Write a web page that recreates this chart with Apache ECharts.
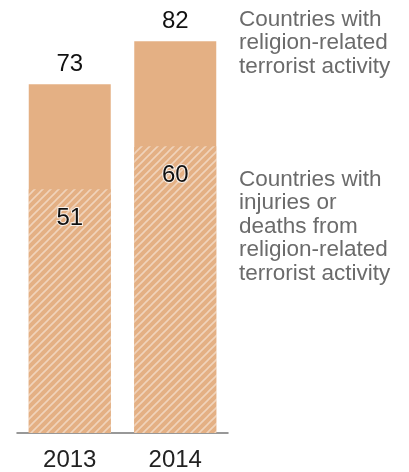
<!DOCTYPE html>
<html>
<head>
<meta charset="utf-8">
<script src="https://cdn.jsdelivr.net/npm/echarts@6/dist/echarts.min.js"></script>
<style>
  html, body { margin: 0; padding: 0; background: #fff; }
  #chart { width: 409px; height: 472px; }
</style>
</head>
<body>
<div id="chart"></div>
<script>
// Years shown on the category axis
const years = ['2013', '2014'];
// Countries with religion-related terrorist activity
const activityCountries = [73, 82];
// Countries with injuries or deaths from that activity
const casualtyCountries = [51, 60];
// Annotation text to the right of the bars
const activityNote = 'Countries with\nreligion-related\nterrorist activity';
const casualtyNote = 'Countries with\ninjuries or\ndeaths from\nreligion-related\nterrorist activity';

const barColor = '#e4b084';

// Diagonal hatching tile for the casualty portion
function hatchPattern() {
  const s = 8;
  const c = document.createElement('canvas');
  c.width = s; c.height = s;
  const g = c.getContext('2d');
  g.fillStyle = barColor;
  g.fillRect(0, 0, s, s);
  g.strokeStyle = 'rgba(255,255,255,0.45)';
  g.lineWidth = 1.6;
  g.beginPath();
  g.moveTo(-1, s + 1); g.lineTo(s + 1, -1);
  g.moveTo(-1, 1); g.lineTo(1, -1);
  g.moveTo(s - 1, s + 1); g.lineTo(s + 1, s - 1);
  g.stroke();
  return c;
}

const chart = echarts.init(document.getElementById('chart'), null, { renderer: 'canvas' });
const font = '"Liberation Sans", Arial, sans-serif';

chart.setOption({
  animation: false,
  grid: { left: 17, right: 181, top: 3, bottom: 37 },
  xAxis: {
    type: 'category',
    data: years,
    axisLine: { lineStyle: { color: '#777', width: 1.5 } },
    axisTick: { show: false },
    axisLabel: { color: '#222', fontSize: 24, fontFamily: font, margin: 15 }
  },
  yAxis: {
    type: 'value', min: 0, max: 90,
    show: false, splitLine: { show: false }
  },
  series: [
    {
      type: 'bar',
      data: activityCountries,
      barWidth: 82,
      itemStyle: { color: barColor },
      label: {
        show: true, position: 'top', distance: 8,
        color: '#111', fontSize: 24, fontFamily: font
      }
    },
    {
      type: 'bar',
      data: casualtyCountries,
      barWidth: 82,
      barGap: '-100%',
      itemStyle: { color: { image: hatchPattern(), repeat: 'repeat' } },
      label: {
        show: true, position: 'insideTop', distance: 17,
        color: '#111', fontSize: 24, fontFamily: font,
        textBorderColor: 'rgba(255,255,255,0.8)', textBorderWidth: 2
      }
    }
  ],
  graphic: [
    {
      type: 'text', left: 239, top: 8,
      style: { text: activityNote, fill: '#6b6b6b', fontSize: 22.5, lineHeight: 23.5, fontFamily: font }
    },
    {
      type: 'text', left: 239, top: 168,
      style: { text: casualtyNote, fill: '#6b6b6b', fontSize: 22.5, lineHeight: 23.5, fontFamily: font }
    }
  ]
});
</script>
</body>
</html>
